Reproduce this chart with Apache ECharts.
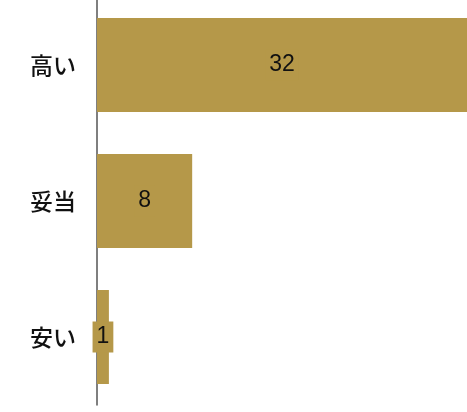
<!DOCTYPE html>
<html>
<head>
<meta charset="utf-8">
<style>
  html, body { margin: 0; padding: 0; background: #ffffff; overflow: hidden; }
  #chart { position: absolute; left: 0; top: -3px; width: 467px; height: 415px; }
</style>
<script src="https://cdn.jsdelivr.net/npm/echarts@6/dist/echarts.min.js"></script>
</head>
<body>
<div id="chart"></div>
<script>
// Price perception responses
const categories = ['高い', '妥当', '安い'];
const counts = [32, 8, 1];

const barColor = '#b59849';

const chart = echarts.init(document.getElementById('chart'), null, { renderer: 'canvas' });

chart.setOption({
  animation: false,
  backgroundColor: '#ffffff',
  grid: { left: 97, right: 0, top: 0, bottom: 7, containLabel: false },
  xAxis: {
    type: 'value',
    min: 0,
    max: 31.1,
    show: false
  },
  yAxis: {
    type: 'category',
    data: categories,
    inverse: true,
    axisLine: { show: true, lineStyle: { color: '#555555', width: 1.5 } },
    axisTick: { show: false },
    axisLabel: {
      color: '#111111',
      fontSize: 23,
      fontWeight: 500,
      margin: 21,
      fontFamily: '"Noto Sans CJK JP", sans-serif'
    },
    splitLine: { show: false }
  },
  series: [{
    type: 'bar',
    data: counts,
    barCategoryGap: '31%',
    itemStyle: { color: barColor },
    label: {
      show: true,
      position: 'inside',
      color: '#111111',
      fontSize: 23,
      fontFamily: 'Arial, "Liberation Sans", sans-serif',
      backgroundColor: barColor,
      padding: [4, 4]
    }
  }]
});
</script>
</body>
</html>
